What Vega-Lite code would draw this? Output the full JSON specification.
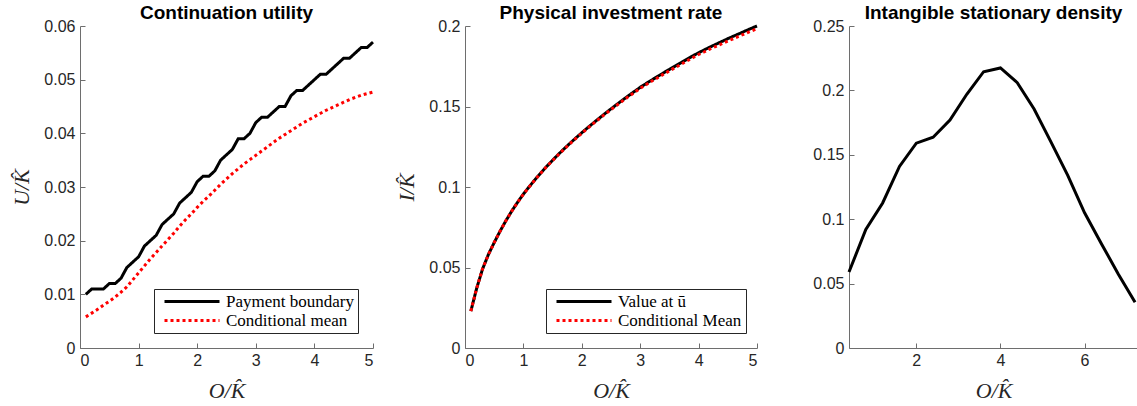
{
  "$schema": "https://vega.github.io/schema/vega-lite/v6.json",
  "padding": {"left": 10, "top": 4, "right": 0, "bottom": 0},
  "background": "white",
  "bounds": "flush",
  "spacing": 92,
  "config": {
    "view": {"stroke": null},
    "font": "Liberation Sans",
    "title": {"font": "Liberation Sans", "fontSize": 19, "fontWeight": "bold", "color": "black", "offset": -5, "anchor": "middle"},
    "axis": {
      "domainColor": "#6e6e6e", "domainWidth": 1, "tickColor": "#6e6e6e", "tickSize": -5, "tickWidth": 1,
      "grid": false, "labelFont": "Liberation Sans", "labelFontSize": 16, "labelColor": "#262626",
      "titleFont": "Liberation Serif", "titleFontStyle": "italic", "titleFontWeight": "normal", "titleFontSize": 22, "titleColor": "#262626",
      "format": "~g"
    },
    "axisX": {"labelPadding": 9, "titlePadding": 12},
    "axisY": {"labelPadding": 10, "titlePadding": 10},
    "legend": {
      "orient": "none", "title": null, "strokeColor": "#262626", "fillColor": "white", "padding": 4, "cornerRadius": 0,
      "symbolType": "M-1,0H26.5", "symbolSize": 16, "symbolStrokeWidth": 3, "labelFont": "Liberation Serif", "labelFontSize": 17,
      "labelColor": "black", "rowPadding": 1, "labelOffset": 51
    }
  },
  "datasets": {
    "p1": [
      {"x":0.1,"y":0.010,"s":"Payment boundary"},{"x":0.2,"y":0.011,"s":"Payment boundary"},{"x":0.3,"y":0.011,"s":"Payment boundary"},{"x":0.4,"y":0.011,"s":"Payment boundary"},{"x":0.5,"y":0.012,"s":"Payment boundary"},
      {"x":0.6,"y":0.012,"s":"Payment boundary"},{"x":0.7,"y":0.013,"s":"Payment boundary"},{"x":0.8,"y":0.015,"s":"Payment boundary"},{"x":0.9,"y":0.016,"s":"Payment boundary"},{"x":1.0,"y":0.017,"s":"Payment boundary"},
      {"x":1.1,"y":0.019,"s":"Payment boundary"},{"x":1.2,"y":0.020,"s":"Payment boundary"},{"x":1.3,"y":0.021,"s":"Payment boundary"},{"x":1.4,"y":0.023,"s":"Payment boundary"},{"x":1.5,"y":0.024,"s":"Payment boundary"},
      {"x":1.6,"y":0.025,"s":"Payment boundary"},{"x":1.7,"y":0.027,"s":"Payment boundary"},{"x":1.8,"y":0.028,"s":"Payment boundary"},{"x":1.9,"y":0.029,"s":"Payment boundary"},{"x":2.0,"y":0.031,"s":"Payment boundary"},
      {"x":2.1,"y":0.032,"s":"Payment boundary"},{"x":2.2,"y":0.032,"s":"Payment boundary"},{"x":2.3,"y":0.033,"s":"Payment boundary"},{"x":2.4,"y":0.035,"s":"Payment boundary"},{"x":2.5,"y":0.036,"s":"Payment boundary"},
      {"x":2.6,"y":0.037,"s":"Payment boundary"},{"x":2.7,"y":0.039,"s":"Payment boundary"},{"x":2.8,"y":0.039,"s":"Payment boundary"},{"x":2.9,"y":0.040,"s":"Payment boundary"},{"x":3.0,"y":0.042,"s":"Payment boundary"},
      {"x":3.1,"y":0.043,"s":"Payment boundary"},{"x":3.2,"y":0.043,"s":"Payment boundary"},{"x":3.3,"y":0.044,"s":"Payment boundary"},{"x":3.4,"y":0.045,"s":"Payment boundary"},{"x":3.5,"y":0.045,"s":"Payment boundary"},
      {"x":3.6,"y":0.047,"s":"Payment boundary"},{"x":3.7,"y":0.048,"s":"Payment boundary"},{"x":3.8,"y":0.048,"s":"Payment boundary"},{"x":3.9,"y":0.049,"s":"Payment boundary"},{"x":4.0,"y":0.050,"s":"Payment boundary"},
      {"x":4.1,"y":0.051,"s":"Payment boundary"},{"x":4.2,"y":0.051,"s":"Payment boundary"},{"x":4.3,"y":0.052,"s":"Payment boundary"},{"x":4.4,"y":0.053,"s":"Payment boundary"},{"x":4.5,"y":0.054,"s":"Payment boundary"},
      {"x":4.6,"y":0.054,"s":"Payment boundary"},{"x":4.7,"y":0.055,"s":"Payment boundary"},{"x":4.8,"y":0.056,"s":"Payment boundary"},{"x":4.9,"y":0.056,"s":"Payment boundary"},{"x":5.0,"y":0.057,"s":"Payment boundary"},
      {"x":0.1,"y":0.0058,"s":"Conditional mean"},{"x":0.2,"y":0.0065,"s":"Conditional mean"},{"x":0.3,"y":0.0072,"s":"Conditional mean"},{"x":0.4,"y":0.0080,"s":"Conditional mean"},{"x":0.5,"y":0.0087,"s":"Conditional mean"},
      {"x":0.6,"y":0.0095,"s":"Conditional mean"},{"x":0.7,"y":0.0104,"s":"Conditional mean"},{"x":0.8,"y":0.0114,"s":"Conditional mean"},{"x":0.9,"y":0.0127,"s":"Conditional mean"},{"x":1.0,"y":0.0140,"s":"Conditional mean"},
      {"x":1.1,"y":0.0153,"s":"Conditional mean"},{"x":1.2,"y":0.0166,"s":"Conditional mean"},{"x":1.3,"y":0.0178,"s":"Conditional mean"},{"x":1.4,"y":0.0190,"s":"Conditional mean"},{"x":1.5,"y":0.0202,"s":"Conditional mean"},
      {"x":1.6,"y":0.0214,"s":"Conditional mean"},{"x":1.7,"y":0.0227,"s":"Conditional mean"},{"x":1.8,"y":0.0239,"s":"Conditional mean"},{"x":1.9,"y":0.0250,"s":"Conditional mean"},{"x":2.0,"y":0.0262,"s":"Conditional mean"},
      {"x":2.1,"y":0.0273,"s":"Conditional mean"},{"x":2.2,"y":0.0283,"s":"Conditional mean"},{"x":2.3,"y":0.0294,"s":"Conditional mean"},{"x":2.4,"y":0.0305,"s":"Conditional mean"},{"x":2.5,"y":0.0315,"s":"Conditional mean"},
      {"x":2.6,"y":0.0325,"s":"Conditional mean"},{"x":2.7,"y":0.0334,"s":"Conditional mean"},{"x":2.8,"y":0.0343,"s":"Conditional mean"},{"x":2.9,"y":0.0351,"s":"Conditional mean"},{"x":3.0,"y":0.0359,"s":"Conditional mean"},
      {"x":3.1,"y":0.0367,"s":"Conditional mean"},{"x":3.2,"y":0.0375,"s":"Conditional mean"},{"x":3.3,"y":0.0383,"s":"Conditional mean"},{"x":3.4,"y":0.0391,"s":"Conditional mean"},{"x":3.5,"y":0.0398,"s":"Conditional mean"},
      {"x":3.6,"y":0.0405,"s":"Conditional mean"},{"x":3.7,"y":0.0412,"s":"Conditional mean"},{"x":3.8,"y":0.0419,"s":"Conditional mean"},{"x":3.9,"y":0.0425,"s":"Conditional mean"},{"x":4.0,"y":0.0431,"s":"Conditional mean"},
      {"x":4.1,"y":0.0437,"s":"Conditional mean"},{"x":4.2,"y":0.0443,"s":"Conditional mean"},{"x":4.3,"y":0.0448,"s":"Conditional mean"},{"x":4.4,"y":0.0453,"s":"Conditional mean"},{"x":4.5,"y":0.0458,"s":"Conditional mean"},
      {"x":4.6,"y":0.0463,"s":"Conditional mean"},{"x":4.7,"y":0.0467,"s":"Conditional mean"},{"x":4.8,"y":0.0471,"s":"Conditional mean"},{"x":4.9,"y":0.0474,"s":"Conditional mean"},{"x":5.0,"y":0.0477,"s":"Conditional mean"}
    ],
    "p2": [
      {"x":0.1,"y":0.0229,"s":"Value at ū"},{"x":0.2,"y":0.0371,"s":"Value at ū"},{"x":0.3,"y":0.0490,"s":"Value at ū"},{"x":0.4,"y":0.0580,"s":"Value at ū"},{"x":0.5,"y":0.0655,"s":"Value at ū"},
      {"x":0.6,"y":0.0725,"s":"Value at ū"},{"x":0.7,"y":0.0790,"s":"Value at ū"},{"x":0.8,"y":0.0850,"s":"Value at ū"},{"x":0.9,"y":0.0905,"s":"Value at ū"},{"x":1.0,"y":0.0956,"s":"Value at ū"},
      {"x":1.1,"y":0.1002,"s":"Value at ū"},{"x":1.2,"y":0.1046,"s":"Value at ū"},{"x":1.3,"y":0.1088,"s":"Value at ū"},{"x":1.4,"y":0.1128,"s":"Value at ū"},{"x":1.5,"y":0.1166,"s":"Value at ū"},
      {"x":1.6,"y":0.1203,"s":"Value at ū"},{"x":1.7,"y":0.1238,"s":"Value at ū"},{"x":1.8,"y":0.1272,"s":"Value at ū"},{"x":1.9,"y":0.1305,"s":"Value at ū"},{"x":2.0,"y":0.1337,"s":"Value at ū"},
      {"x":2.1,"y":0.1368,"s":"Value at ū"},{"x":2.2,"y":0.1398,"s":"Value at ū"},{"x":2.3,"y":0.1428,"s":"Value at ū"},{"x":2.4,"y":0.1457,"s":"Value at ū"},{"x":2.5,"y":0.1485,"s":"Value at ū"},
      {"x":2.6,"y":0.1513,"s":"Value at ū"},{"x":2.7,"y":0.1540,"s":"Value at ū"},{"x":2.8,"y":0.1567,"s":"Value at ū"},{"x":2.9,"y":0.1593,"s":"Value at ū"},{"x":3.0,"y":0.1619,"s":"Value at ū"},
      {"x":3.1,"y":0.1642,"s":"Value at ū"},{"x":3.2,"y":0.1665,"s":"Value at ū"},{"x":3.3,"y":0.1687,"s":"Value at ū"},{"x":3.4,"y":0.1709,"s":"Value at ū"},{"x":3.5,"y":0.1730,"s":"Value at ū"},
      {"x":3.6,"y":0.1751,"s":"Value at ū"},{"x":3.7,"y":0.1772,"s":"Value at ū"},{"x":3.8,"y":0.1793,"s":"Value at ū"},{"x":3.9,"y":0.1814,"s":"Value at ū"},{"x":4.0,"y":0.1834,"s":"Value at ū"},
      {"x":4.1,"y":0.1852,"s":"Value at ū"},{"x":4.2,"y":0.1870,"s":"Value at ū"},{"x":4.3,"y":0.1887,"s":"Value at ū"},{"x":4.4,"y":0.1904,"s":"Value at ū"},{"x":4.5,"y":0.1921,"s":"Value at ū"},
      {"x":4.6,"y":0.1937,"s":"Value at ū"},{"x":4.7,"y":0.1953,"s":"Value at ū"},{"x":4.8,"y":0.1969,"s":"Value at ū"},{"x":4.9,"y":0.1985,"s":"Value at ū"},{"x":5.0,"y":0.2000,"s":"Value at ū"},
      {"x":0.1,"y":0.0229,"s":"Conditional Mean"},{"x":0.2,"y":0.0371,"s":"Conditional Mean"},{"x":0.3,"y":0.0490,"s":"Conditional Mean"},{"x":0.4,"y":0.0580,"s":"Conditional Mean"},{"x":0.5,"y":0.0655,"s":"Conditional Mean"},
      {"x":0.6,"y":0.0725,"s":"Conditional Mean"},{"x":0.7,"y":0.0790,"s":"Conditional Mean"},{"x":0.8,"y":0.0850,"s":"Conditional Mean"},{"x":0.9,"y":0.0904,"s":"Conditional Mean"},{"x":1.0,"y":0.0955,"s":"Conditional Mean"},
      {"x":1.1,"y":0.1001,"s":"Conditional Mean"},{"x":1.2,"y":0.1045,"s":"Conditional Mean"},{"x":1.3,"y":0.1087,"s":"Conditional Mean"},{"x":1.4,"y":0.1127,"s":"Conditional Mean"},{"x":1.5,"y":0.1164,"s":"Conditional Mean"},
      {"x":1.6,"y":0.1201,"s":"Conditional Mean"},{"x":1.7,"y":0.1236,"s":"Conditional Mean"},{"x":1.8,"y":0.1270,"s":"Conditional Mean"},{"x":1.9,"y":0.1302,"s":"Conditional Mean"},{"x":2.0,"y":0.1334,"s":"Conditional Mean"},
      {"x":2.1,"y":0.1365,"s":"Conditional Mean"},{"x":2.2,"y":0.1395,"s":"Conditional Mean"},{"x":2.3,"y":0.1424,"s":"Conditional Mean"},{"x":2.4,"y":0.1453,"s":"Conditional Mean"},{"x":2.5,"y":0.1481,"s":"Conditional Mean"},
      {"x":2.6,"y":0.1508,"s":"Conditional Mean"},{"x":2.7,"y":0.1535,"s":"Conditional Mean"},{"x":2.8,"y":0.1562,"s":"Conditional Mean"},{"x":2.9,"y":0.1587,"s":"Conditional Mean"},{"x":3.0,"y":0.1613,"s":"Conditional Mean"},
      {"x":3.1,"y":0.1635,"s":"Conditional Mean"},{"x":3.2,"y":0.1658,"s":"Conditional Mean"},{"x":3.3,"y":0.1679,"s":"Conditional Mean"},{"x":3.4,"y":0.1701,"s":"Conditional Mean"},{"x":3.5,"y":0.1721,"s":"Conditional Mean"},
      {"x":3.6,"y":0.1742,"s":"Conditional Mean"},{"x":3.7,"y":0.1762,"s":"Conditional Mean"},{"x":3.8,"y":0.1783,"s":"Conditional Mean"},{"x":3.9,"y":0.1803,"s":"Conditional Mean"},{"x":4.0,"y":0.1823,"s":"Conditional Mean"},
      {"x":4.1,"y":0.1840,"s":"Conditional Mean"},{"x":4.2,"y":0.1858,"s":"Conditional Mean"},{"x":4.3,"y":0.1874,"s":"Conditional Mean"},{"x":4.4,"y":0.1890,"s":"Conditional Mean"},{"x":4.5,"y":0.1907,"s":"Conditional Mean"},
      {"x":4.6,"y":0.1922,"s":"Conditional Mean"},{"x":4.7,"y":0.1938,"s":"Conditional Mean"},{"x":4.8,"y":0.1953,"s":"Conditional Mean"},{"x":4.9,"y":0.1968,"s":"Conditional Mean"},{"x":5.0,"y":0.1983,"s":"Conditional Mean"}
    ],
    "p3": [
      {"x":0.4,"y":0.059},{"x":0.8,"y":0.092},{"x":1.2,"y":0.1126},{"x":1.6,"y":0.141},{"x":2.0,"y":0.159},{"x":2.4,"y":0.1636},
      {"x":2.8,"y":0.177},{"x":3.2,"y":0.197},{"x":3.6,"y":0.2145},{"x":4.0,"y":0.2174},{"x":4.4,"y":0.206},{"x":4.8,"y":0.1856},
      {"x":5.2,"y":0.160},{"x":5.6,"y":0.134},{"x":6.0,"y":0.105},{"x":6.4,"y":0.081},{"x":6.8,"y":0.0575},{"x":7.2,"y":0.0355}
    ]
  },
  "resolve": {
    "scale": {"x": "independent", "y": "independent", "color": "independent", "strokeDash": "independent"},
    "legend": {"color": "independent", "strokeDash": "independent"}
  },
  "hconcat": [
    {
      "width": 293, "height": 322,
      "title": "Continuation utility",
      "data": {"name": "p1"},
      "mark": {"type": "line", "strokeWidth": 3, "strokeCap": "butt"},
      "encoding": {
        "x": {"field": "x", "type": "quantitative", "title": "O/K̂", "scale": {"domain": [0, 5], "nice": false, "zero": false}, "axis": {"values": [0,1,2,3,4,5]}},
        "y": {"field": "y", "type": "quantitative", "title": "U/K̂", "scale": {"domain": [0, 0.06], "nice": false}, "axis": {"values": [0,0.01,0.02,0.03,0.04,0.05,0.06]}},
        "color": {"field": "s", "type": "nominal", "scale": {"domain": ["Payment boundary", "Conditional mean"], "range": ["#000000", "#ff0000"]}, "legend": {"legendX": 74, "legendY": 263}},
        "strokeDash": {"field": "s", "type": "nominal", "scale": {"domain": ["Payment boundary", "Conditional mean"], "range": [[1, 0], [3, 3]]}, "legend": {"legendX": 74, "legendY": 263}}
      }
    },
    {
      "width": 292, "height": 322,
      "title": "Physical investment rate",
      "data": {"name": "p2"},
      "mark": {"type": "line", "strokeWidth": 3, "strokeCap": "butt"},
      "encoding": {
        "x": {"field": "x", "type": "quantitative", "title": "O/K̂", "scale": {"domain": [0, 5], "nice": false, "zero": false}, "axis": {"values": [0,1,2,3,4,5]}},
        "y": {"field": "y", "type": "quantitative", "title": "I/K̂", "scale": {"domain": [0, 0.2], "nice": false}, "axis": {"values": [0,0.05,0.1,0.15,0.2]}},
        "color": {"field": "s", "type": "nominal", "scale": {"domain": ["Value at ū", "Conditional Mean"], "range": ["#000000", "#ff0000"]}, "legend": {"legendX": 81, "legendY": 263}},
        "strokeDash": {"field": "s", "type": "nominal", "scale": {"domain": ["Value at ū", "Conditional Mean"], "range": [[1, 0], [3, 3]]}, "legend": {"legendX": 81, "legendY": 263}}
      }
    },
    {
      "width": 289, "height": 322,
      "title": "Intangible stationary density",
      "data": {"name": "p3"},
      "mark": {"type": "line", "strokeWidth": 3, "color": "black"},
      "encoding": {
        "x": {"field": "x", "type": "quantitative", "title": "O/K̂", "scale": {"domain": [0.4, 7.27], "nice": false, "zero": false}, "axis": {"values": [2,4,6]}},
        "y": {"field": "y", "type": "quantitative", "title": null, "scale": {"domain": [0, 0.25], "nice": false}, "axis": {"values": [0,0.05,0.1,0.15,0.2,0.25]}}
      }
    }
  ]
}
